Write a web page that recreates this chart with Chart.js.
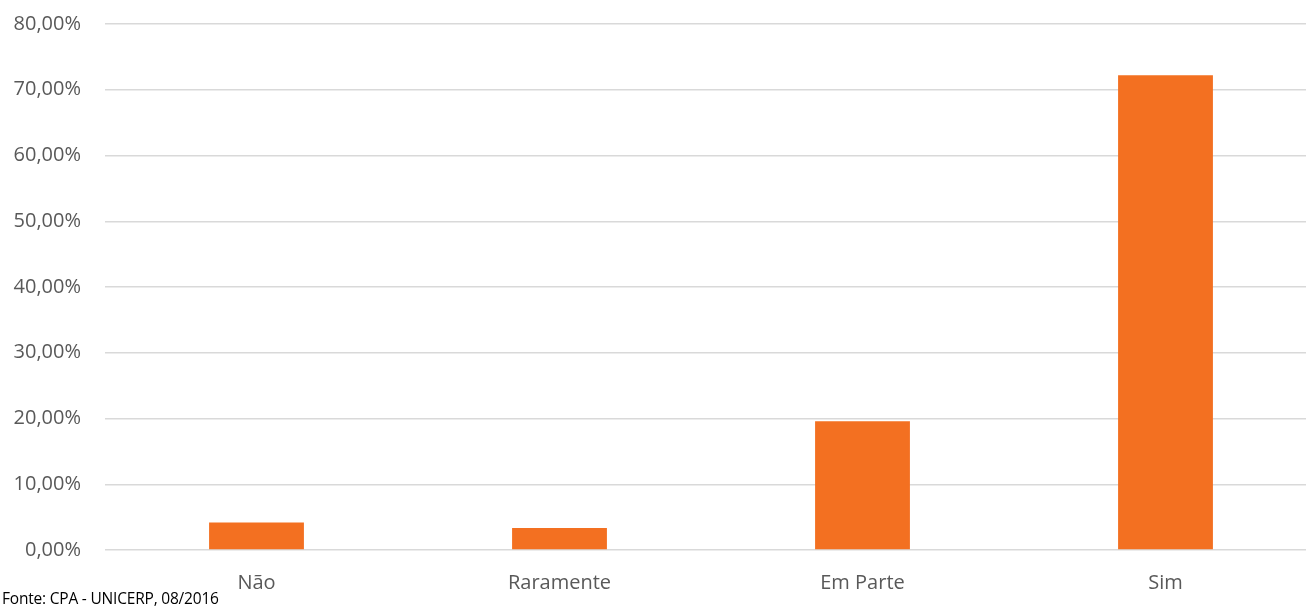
<!DOCTYPE html>
<html>
<head>
<meta charset="utf-8">
<script src="https://cdn.jsdelivr.net/npm/chart.js@4.4.1/dist/chart.umd.min.js"></script>
<style>
  html, body { margin: 0; padding: 0; background: #fff; }
  #wrap { position: relative; width: 1306px; height: 606px; overflow: hidden; }
  #fonte { position: absolute; left: 2px; top: 591px; font: 15.5px/15.5px "Open Sans", sans-serif; color: #000; white-space: nowrap; letter-spacing: -0.2px; }
</style>
</head>
<body>
<div id="wrap">
  <canvas id="chart" width="1317" height="606"></canvas>
  <div id="fonte">Fonte: CPA - UNICERP, 08/2016</div>
</div>
<script>
const categories = ["Não", "Raramente", "Em Parte", "Sim"];
const percentages = [4.2, 3.35, 19.6, 72.2];
const yTicks = [0, 10, 20, 30, 40, 50, 60, 70, 80];

const fmt = v => v.toFixed(2).replace(".", ",") + "%";

const ctx = document.getElementById("chart").getContext("2d");
new Chart(ctx, {
  type: "bar",
  data: {
    labels: categories,
    datasets: [{
      data: percentages,
      backgroundColor: "#F37021",
      borderWidth: 0,
      categoryPercentage: 1,
      barPercentage: 0.313
    }]
  },
  options: {
    responsive: false,
    animation: false,
    layout: { padding: { top: 24, right: 0, left: 0, bottom: 0 } },
    plugins: { legend: { display: false }, tooltip: { enabled: false } },
    scales: {
      x: {
        grid: { display: false },
        border: { display: false },
        ticks: { color: "#595959", font: { family: "Open Sans", size: 20 }, padding: 13 },
        afterFit: s => { s.height = 56; s.paddingLeft = 0; s.paddingRight = 0; }
      },
      y: {
        min: 0,
        max: 80,
        afterBuildTicks: s => { s.ticks = yTicks.map(v => ({ value: v })); },
        grid: { color: "#d9d9d9", lineWidth: 1.5, drawTicks: false },
        border: { display: false },
        ticks: {
          color: "#595959",
          font: { family: "Open Sans", size: 20 },
          padding: 24,
          callback: v => fmt(v)
        },
        afterFit: s => { s.width = 105; s.paddingTop = 0; s.paddingBottom = 0; }
      }
    }
  }
});
</script>
</body>
</html>
